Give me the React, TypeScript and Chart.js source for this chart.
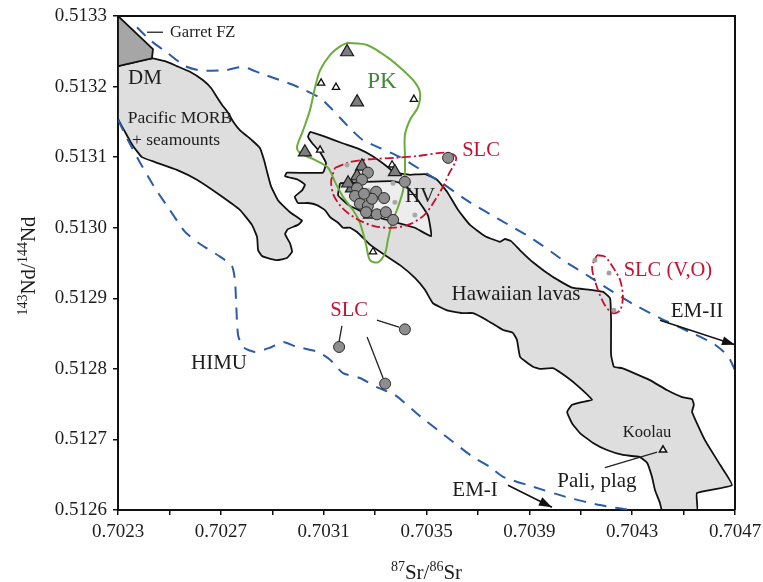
import React, { useEffect, useRef } from "react";
import { Chart, registerables } from "chart.js";

Chart.register(...registerables);

type Pt = [number, number];

// ---- axes ----
const xRange: Pt = [0.7023, 0.7047];
const xTickStep = 0.0002;
const yRange: Pt = [0.5126, 0.5133];
const yTickStep = 0.0001;

// ---- fields (87Sr/86Sr, 143Nd/144Nd) ----
const dmField: Pt[] = [
  [0.7023, 0.5133], [0.702436, 0.513253], [0.702432, 0.51324], [0.7023, 0.513229],
];

const morbField: Pt[] = [
  [0.7023, 0.513229], [0.702432, 0.51324], [0.702483, 0.513236], [0.702529, 0.513229],
  [0.70258, 0.513221], [0.702631, 0.513209], [0.702662, 0.513198], [0.702685, 0.513185],
  [0.702705, 0.513174], [0.702728, 0.513163], [0.702747, 0.513151], [0.702775, 0.513138],
  [0.702821, 0.513124], [0.702852, 0.513113], [0.702868, 0.513096], [0.70288, 0.513079],
  [0.702895, 0.513059], [0.702922, 0.513039], [0.702969, 0.513022], [0.703016, 0.51301],
  [0.703, 0.513004], [0.702961, 0.512998], [0.70295, 0.512991], [0.702969, 0.512978],
  [0.702977, 0.512966], [0.702957, 0.512957], [0.702918, 0.512954], [0.702883, 0.512957],
  [0.70286, 0.51296], [0.702845, 0.512968], [0.702841, 0.512987], [0.702821, 0.513004],
  [0.702775, 0.513025], [0.702697, 0.513046], [0.702607, 0.513068], [0.702529, 0.513082],
  [0.702444, 0.513093], [0.702393, 0.5131], [0.702358, 0.513116], [0.702327, 0.513136],
  [0.7023, 0.513155],
];

const hawaiiField: Pt[] = [
  [0.703047, 0.513136], [0.703105, 0.513129], [0.703171, 0.51312], [0.703234, 0.513112],
  [0.703288, 0.513102], [0.703339, 0.513089], [0.703377, 0.513078], [0.703436, 0.513075],
  [0.703494, 0.513076], [0.703541, 0.513068], [0.70358, 0.513051], [0.703623, 0.513025],
  [0.703669, 0.513004], [0.703728, 0.512988], [0.703786, 0.51298], [0.703805, 0.512984],
  [0.703829, 0.512981], [0.703864, 0.512968], [0.703914, 0.512951], [0.703992, 0.51293],
  [0.704066, 0.512915], [0.704136, 0.512912], [0.704187, 0.512909], [0.704214, 0.5129],
  [0.704218, 0.512869], [0.704218, 0.51282], [0.704229, 0.512803], [0.70426, 0.512801],
  [0.704307, 0.512794], [0.704369, 0.512784], [0.704435, 0.51277], [0.704494, 0.51276],
  [0.704533, 0.512757], [0.70454, 0.512749], [0.704533, 0.512739], [0.704583, 0.512699],
  [0.704642, 0.512664], [0.704688, 0.512635], [0.704552, 0.512624], [0.704552, 0.5126],
  [0.704416, 0.5126], [0.704408, 0.51261], [0.704389, 0.512628], [0.704377, 0.512647],
  [0.704358, 0.512667], [0.70433, 0.512675], [0.704264, 0.512678], [0.704202, 0.512685],
  [0.704148, 0.512695], [0.704097, 0.512709], [0.704066, 0.512723], [0.704047, 0.512739],
  [0.704066, 0.512749], [0.704105, 0.512753], [0.704144, 0.512756], [0.704097, 0.512773],
  [0.704047, 0.512788], [0.703992, 0.512801], [0.703941, 0.5128], [0.703914, 0.512803],
  [0.703864, 0.512817], [0.703852, 0.512841], [0.703836, 0.512851], [0.703798, 0.512855],
  [0.703735, 0.512869], [0.703681, 0.512879], [0.703638, 0.512879], [0.70358, 0.512883],
  [0.703525, 0.512893], [0.703494, 0.512912], [0.703455, 0.512929], [0.703397, 0.512947],
  [0.703339, 0.512961], [0.70328, 0.512976], [0.70323, 0.512994], [0.703202, 0.513],
  [0.703175, 0.513], [0.703156, 0.513007], [0.703125, 0.513015], [0.703105, 0.513025],
  [0.703074, 0.513032], [0.703039, 0.513035], [0.703, 0.513035], [0.702988, 0.513044],
  [0.703016, 0.513053], [0.703027, 0.513061], [0.703, 0.513068], [0.70295, 0.513073],
  [0.702957, 0.513078], [0.703097, 0.513078], [0.703109, 0.513092], [0.703086, 0.513107],
  [0.703055, 0.51312], [0.703039, 0.513129],
];

const hvField: Pt[] = [
  [0.703164, 0.513063], [0.703261, 0.513065], [0.70337, 0.513066], [0.703416, 0.513061],
  [0.703467, 0.513039], [0.703506, 0.513017], [0.703518, 0.512988], [0.703455, 0.513],
  [0.703377, 0.513008], [0.70328, 0.513018], [0.703202, 0.513031], [0.703156, 0.513046],
];

const pkOutline: Pt[] = [
  [0.703191, 0.513262], [0.703269, 0.513259], [0.703346, 0.513242], [0.703409, 0.513223],
  [0.703455, 0.513206], [0.703475, 0.513191], [0.703467, 0.513171], [0.703436, 0.513153],
  [0.703416, 0.513131], [0.703416, 0.513103], [0.703416, 0.513078], [0.703409, 0.513053],
  [0.703389, 0.513029], [0.703366, 0.513007], [0.70335, 0.512983], [0.703339, 0.512964],
  [0.703311, 0.512951], [0.70328, 0.512954], [0.703265, 0.512976], [0.703241, 0.513007],
  [0.703214, 0.513025], [0.703175, 0.513044], [0.703144, 0.513065], [0.703117, 0.513085],
  [0.703066, 0.513096], [0.703008, 0.513106], [0.702996, 0.513114], [0.70302, 0.513138],
  [0.703047, 0.513167], [0.703066, 0.513198], [0.703086, 0.513223], [0.703125, 0.513245],
  [0.703164, 0.513257],
];

const slcOutline: Pt[] = [
  [0.703144, 0.513085], [0.703202, 0.513093], [0.70328, 0.513097], [0.703377, 0.513099],
  [0.703475, 0.513102], [0.703553, 0.513106], [0.703591, 0.513106], [0.703615, 0.5131],
  [0.703611, 0.513092], [0.703591, 0.513079], [0.703564, 0.513058], [0.703533, 0.513039],
  [0.703494, 0.513019], [0.703436, 0.513005], [0.70337, 0.513], [0.7033, 0.513002],
  [0.70323, 0.513012], [0.703175, 0.513027], [0.70314, 0.513045], [0.703129, 0.513065],
];

const slcVOOutline: Pt[] = [
  [0.704163, 0.512961], [0.704194, 0.512959], [0.704225, 0.512944], [0.704253, 0.512926],
  [0.704264, 0.512902], [0.704253, 0.512883], [0.704225, 0.512879], [0.704194, 0.51289],
  [0.704163, 0.512916], [0.704144, 0.512944],
];

// ---- mantle-array boundaries (dashed) ----
const upperBoundary: Pt[] = [
  [0.702374, 0.513284], [0.702424, 0.513266], [0.702491, 0.513248], [0.702561, 0.513229],
  [0.702619, 0.513223], [0.702716, 0.513223], [0.702786, 0.513228], [0.70286, 0.513218],
  [0.702969, 0.513204], [0.703027, 0.513195], [0.703086, 0.513184], [0.703132, 0.513168],
  [0.703171, 0.513153], [0.70321, 0.513138], [0.703253, 0.513124], [0.703319, 0.513113],
  [0.703397, 0.5131], [0.703447, 0.513089], [0.703553, 0.513065], [0.703669, 0.513036],
  [0.703786, 0.513011], [0.703914, 0.512984], [0.704031, 0.512954], [0.704136, 0.51293],
  [0.704225, 0.512909], [0.704303, 0.512892], [0.704408, 0.512872], [0.704525, 0.512852],
  [0.704611, 0.512837], [0.704657, 0.512824], [0.704681, 0.512813], [0.7047, 0.512798],
];

const lowerBoundary: Pt[] = [
  [0.7023, 0.513153], [0.702339, 0.513124], [0.702386, 0.513092], [0.702444, 0.513056],
  [0.702502, 0.513025], [0.702561, 0.512994], [0.702619, 0.512977], [0.702697, 0.512959],
  [0.702743, 0.512946], [0.702755, 0.512926], [0.702759, 0.512898], [0.702767, 0.512848],
  [0.702786, 0.512831], [0.702833, 0.512824], [0.702891, 0.51283], [0.702942, 0.512838],
  [0.702988, 0.512832], [0.703078, 0.512824], [0.703125, 0.512813], [0.703175, 0.512794],
  [0.703241, 0.512787], [0.703307, 0.512774], [0.703377, 0.512763], [0.703475, 0.512733],
  [0.70358, 0.512703], [0.703681, 0.512675], [0.703747, 0.512661], [0.703798, 0.512647],
  [0.703914, 0.512633], [0.704047, 0.512618], [0.704175, 0.512607], [0.704311, 0.512599],
];

// ---- samples ----
const slcSamples: Pt[] = [
  [0.703584, 0.513099], [0.703272, 0.513078], [0.703249, 0.513068], [0.70323, 0.513056],
  [0.703222, 0.513045], [0.703241, 0.513034], [0.703272, 0.513031], [0.703304, 0.513051],
  [0.703335, 0.513042], [0.703288, 0.513041], [0.703265, 0.513022], [0.703307, 0.513019],
  [0.703342, 0.513022], [0.70337, 0.513011], [0.703416, 0.513065], [0.703257, 0.513048],
];
const slcLowSamples: Pt[] = [
  [0.70316, 0.512831], [0.703416, 0.512856], [0.703339, 0.512779],
];
const pkDarkTriangles: Pt[] = [
  [0.703191, 0.513249], [0.70323, 0.513178], [0.703027, 0.513107],
  [0.703249, 0.513087], [0.70323, 0.513073], [0.70321, 0.513056],
  [0.703377, 0.513079], [0.70328, 0.513019], [0.703195, 0.513063],
];
const pkOpenTriangles: Pt[] = [
  [0.70309, 0.513205], [0.703148, 0.513199], [0.703451, 0.513182],
  [0.703086, 0.51311], [0.703292, 0.512966], [0.703366, 0.513089],
];
const koolauSample: Pt[] = [[0.70442, 0.512685]];
const hvMinorDots: Pt[] = [
  [0.703191, 0.513089], [0.703272, 0.513053], [0.703377, 0.513036],
  [0.703455, 0.513018], [0.70337, 0.513063],
];
const slcVODots: Pt[] = [[0.704155, 0.512954], [0.70421, 0.512936], [0.704229, 0.512883]];

// ---- leader lines & arrows ----
const slcLeaders: Pt[][] = [
  [[0.703171, 0.512861], [0.70316, 0.512839]],
  [[0.703307, 0.512869], [0.703393, 0.512859]],
  [[0.703269, 0.512845], [0.703331, 0.512787]],
];
const paliLeader: Pt[] = [[0.704194, 0.51266], [0.704397, 0.512682]];
const garretLeader: Pt[] = [[0.702413, 0.513277], [0.702475, 0.513277]];
const emIIArrow: Pt[] = [[0.704408, 0.512869], [0.7047, 0.512834]];
const emIArrow: Pt[] = [[0.703817, 0.512635], [0.703988, 0.512604]];

// ---- text labels ----
const labelTexts: { text: string; at: Pt; kind: string; align?: CanvasTextAlign }[] = [
  { text: "DM", at: [0.702405, 0.513212], kind: "big" },
  { text: "Pacific MORB", at: [0.702541, 0.513155], kind: "mid" },
  { text: "+ seamounts", at: [0.702526, 0.513124], kind: "mid" },
  { text: "Garret FZ", at: [0.702502, 0.513277], kind: "small", align: "left" },
  { text: "PK", at: [0.703327, 0.513206], kind: "pk" },
  { text: "SLC", at: [0.703712, 0.513109], kind: "red" },
  { text: "HV", at: [0.703475, 0.513044], kind: "big" },
  { text: "SLC (V,O)", at: [0.704439, 0.512939], kind: "red" },
  { text: "Hawaiian lavas", at: [0.703848, 0.512905], kind: "big" },
  { text: "EM-II", at: [0.704552, 0.512881], kind: "big" },
  { text: "EM-I", at: [0.703689, 0.512628], kind: "big" },
  { text: "HIMU", at: [0.702693, 0.512808], kind: "big" },
  { text: "SLC", at: [0.703199, 0.512883], kind: "red" },
  { text: "Koolau", at: [0.704358, 0.51271], kind: "tiny" },
  { text: "Pali, plag", at: [0.704163, 0.512641], kind: "big" },
];

const SERIF = '"Liberation Serif", "Times New Roman", serif';
const INK = "#1c1c1c";
const RED = "#c8102e";
const labelStyle: Record<string, { size: number; color: string }> = {
  big: { size: 21, color: INK },
  mid: { size: 17.5, color: INK },
  small: { size: 16.5, color: INK },
  tiny: { size: 16.5, color: INK },
  pk: { size: 23, color: "#3f8a35" },
  red: { size: 20.5, color: RED },
};

const toXY = (pts: Pt[]) => pts.map(([x, y]) => ({ x, y }));
const closed = (pts: Pt[]) => toXY([...pts, pts[0]]);

function area(pts: Pt[], color: string, order: number, tension = 0.12) {
  return {
    data: closed(pts), showLine: true, fill: "shape", backgroundColor: color,
    borderColor: "#111", borderWidth: 1.8, pointRadius: 0, tension, order,
    borderJoinStyle: "round",
  };
}
function path(data: { x: number; y: number }[], color: string, width: number, dash: number[], order: number, tension = 0.2) {
  return {
    data, showLine: true, fill: false, borderColor: color, borderWidth: width,
    borderDash: dash, pointRadius: 0, tension, order, borderJoinStyle: "round",
  };
}
function marks(pts: Pt[], style: string, radius: number, bg: string, border: string, bw: number, order: number) {
  return {
    data: toXY(pts), showLine: false, pointStyle: style, pointRadius: radius,
    pointBackgroundColor: bg, pointBorderColor: border, pointBorderWidth: bw, order,
  };
}

function drawSupText(ctx: CanvasRenderingContext2D, parts: [string, boolean][], cx: number, base: number) {
  const main = 21, sup = 14, rise = 8;
  let w = 0;
  for (const [t, s] of parts) {
    ctx.font = `${s ? sup : main}px ${SERIF}`;
    w += ctx.measureText(t).width;
  }
  let x = cx - w / 2;
  ctx.textAlign = "left";
  ctx.textBaseline = "alphabetic";
  for (const [t, s] of parts) {
    ctx.font = `${s ? sup : main}px ${SERIF}`;
    ctx.fillText(t, x, s ? base - rise : base);
    x += ctx.measureText(t).width;
  }
}

const overlay = {
  id: "overlay",
  afterDatasetsDraw(chart: any) {
    const { ctx, scales } = chart;
    const xs = scales.x, ys = scales.y;
    ctx.save();
    // arrowheads
    ctx.fillStyle = "#111";
    for (const arr of [emIIArrow, emIArrow]) {
      const [a, b] = [arr[arr.length - 2], arr[arr.length - 1]];
      const x1 = xs.getPixelForValue(a[0]), y1 = ys.getPixelForValue(a[1]);
      const x2 = xs.getPixelForValue(b[0]), y2 = ys.getPixelForValue(b[1]);
      const ang = Math.atan2(y2 - y1, x2 - x1);
      const L = 13, W = 4.5;
      const c = Math.cos(ang), s = Math.sin(ang);
      ctx.beginPath();
      ctx.moveTo(x2, y2);
      ctx.lineTo(x2 - L * c + W * s, y2 - L * s - W * c);
      ctx.lineTo(x2 - L * c - W * s, y2 - L * s + W * c);
      ctx.closePath();
      ctx.fill();
    }
    // labels
    for (const lab of labelTexts) {
      const st = labelStyle[lab.kind];
      ctx.font = `${st.size}px ${SERIF}`;
      ctx.fillStyle = st.color;
      ctx.textAlign = lab.align || "center";
      ctx.textBaseline = "middle";
      ctx.fillText(lab.text, xs.getPixelForValue(lab.at[0]), ys.getPixelForValue(lab.at[1]));
    }
    ctx.restore();
  },
  afterDraw(chart: any) {
    const { ctx, chartArea: a } = chart;
    ctx.save();
    ctx.strokeStyle = "#111";
    ctx.lineWidth = 2;
    ctx.beginPath();
    ctx.moveTo(a.left, a.top);
    ctx.lineTo(a.right, a.top);
    ctx.lineTo(a.right, a.bottom);
    ctx.stroke();
    ctx.fillStyle = INK;
    drawSupText(ctx, [["87", true], ["Sr/", false], ["86", true], ["Sr", false]], (a.left + a.right) / 2, 579);
    ctx.translate(35, (a.top + a.bottom) / 2 + 3);
    ctx.rotate(-Math.PI / 2);
    drawSupText(ctx, [["143", true], ["Nd/", false], ["144", true], ["Nd", false]], 0, 0);
    ctx.restore();
  },
};

export default function App() {
  const ref = useRef<HTMLCanvasElement | null>(null);
  useEffect(() => {
    if (!ref.current) return;
    const datasets: any[] = [
      area(morbField, "#dedede", 30),
      area(dmField, "#a6a6a6", 29, 0),
      area(hawaiiField, "#dedede", 28),
      area(hvField, "#ededed", 27),
      path(toXY(upperBoundary), "#2a5ca8", 2, [12, 9], 20),
      path(toXY(lowerBoundary), "#2a5ca8", 2, [12, 9], 20),
      path(closed(pkOutline), "#6aad3d", 2, [], 19, 0.3),
      path(closed(slcOutline), RED, 1.8, [9, 3, 2, 3], 18, 0.3),
      path(closed(slcVOOutline), RED, 1.8, [9, 3, 2, 3], 18, 0.3),
      ...slcLeaders.map((l) => path(toXY(l), "#222", 1.3, [], 15, 0)),
      path(toXY(paliLeader), "#222", 1.3, [], 15, 0),
      path(toXY(garretLeader), "#222", 1.3, [], 15, 0),
      path(toXY(emIIArrow), "#111", 1.6, [], 15, 0),
      path(toXY(emIArrow), "#111", 1.6, [], 15, 0),
      marks(hvMinorDots, "circle", 2.5, "#a9a9a9", "#a9a9a9", 0, 12),
      marks(slcVODots, "circle", 2.5, "#a0a0a0", "#a0a0a0", 0, 12),
      marks(pkOpenTriangles, "triangle", 4.2, "#ffffff", "#111", 1.3, 11),
      marks(koolauSample, "triangle", 4.2, "#ffffff", "#111", 1.5, 11),
      marks(pkDarkTriangles, "triangle", 7.5, "#7d7d7d", "#1a1a1a", 1.2, 10),
      marks(slcSamples, "circle", 5.5, "#8e8e8e", "#2a2a2a", 1, 9),
      marks(slcLowSamples, "circle", 5.5, "#8e8e8e", "#2a2a2a", 1, 9),
    ];
    const tickFont = { family: SERIF, size: 19 };
    const chart = new Chart(ref.current, {
      type: "scatter",
      data: { datasets },
      options: {
        responsive: false,
        animation: false,
        devicePixelRatio: 1,
        events: [],
        layout: { padding: { top: 16, right: 28, bottom: 0, left: 0 } },
        plugins: { legend: { display: false }, tooltip: { enabled: false } },
        scales: {
          x: {
            type: "linear", min: xRange[0], max: xRange[1],
            afterFit: (s: any) => { s.height = 72; s.paddingLeft = 0; s.paddingRight = 0; },
            ticks: {
              stepSize: xTickStep, autoSkip: false, maxRotation: 0, padding: 6,
              color: INK, font: tickFont,
              callback: (v: any) => {
                const k = Math.round((Number(v) - xRange[0]) / xTickStep);
                return k % 2 === 0 ? Number(v).toFixed(4) : "";
              },
            },
            grid: { drawOnChartArea: false, drawTicks: true, tickLength: 5, color: "#111", lineWidth: 1.5 },
            border: { display: true, color: "#111", width: 2 },
          },
          y: {
            type: "linear", min: yRange[0], max: yRange[1],
            afterFit: (s: any) => { s.width = 118; s.paddingTop = 0; s.paddingBottom = 0; },
            ticks: {
              stepSize: yTickStep, autoSkip: false, padding: 6, color: INK, font: tickFont,
              callback: (v: any) => Number(v).toFixed(4),
            },
            grid: { drawOnChartArea: false, drawTicks: true, tickLength: 5, color: "#111", lineWidth: 1.5 },
            border: { display: true, color: "#111", width: 2 },
          },
        },
      } as any,
      plugins: [overlay],
    });
    return () => chart.destroy();
  }, []);
  return (
    <div style={{ position: "fixed", left: 0, top: 0, width: 763, height: 582, background: "#fff" }}>
      <canvas ref={ref} width={763} height={582} style={{ display: "block", width: 763, height: 582 }} />
    </div>
  );
}
